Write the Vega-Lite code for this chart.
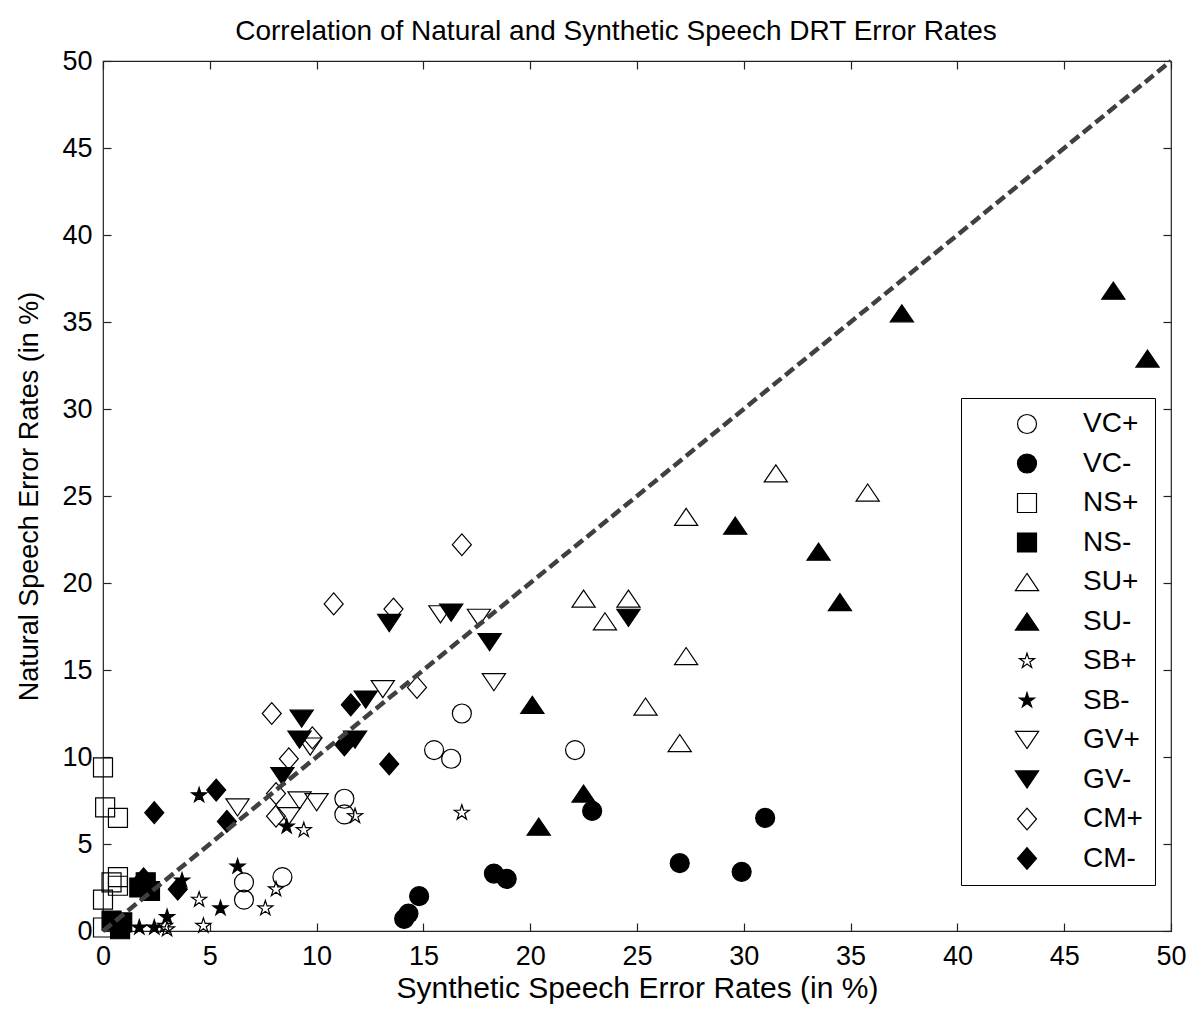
{
  "$schema": "https://vega.github.io/schema/vega-lite/v6.json",
  "width": 1068,
  "height": 870,
  "autosize": {"type": "none"},
  "padding": {"left": 103, "top": 61, "right": 20, "bottom": 78},
  "background": "white",
  "config": {
    "font": "Liberation Sans",
    "view": {"stroke": "#222222", "strokeWidth": 1.2},
    "axis": {
      "domain": false,
      "grid": false,
      "tickSize": -8,
      "tickColor": "#222222",
      "tickWidth": 1.2,
      "labelFontSize": 27,
      "labelColor": "black",
      "labelFont": "Liberation Sans",
      "labelFlush": false,
      "labelOverlap": false,
      "titleFontSize": 30,
      "titleFontWeight": "normal",
      "titleColor": "black",
      "titleFont": "Liberation Sans"
    },
    "legend": {
      "orient": "none", "legendX": 858, "legendY": 337, "title": null,
      "strokeColor": "black", "fillColor": "white", "padding": 12,
      "labelFontSize": 28, "labelColor": "black", "labelFont": "Liberation Sans",
      "symbolSize": 361, "symbolStrokeWidth": 1.2,
      "symbolOffset": 40, "labelOffset": 42, "rowPadding": 11.5
    }
  },
  "title": {
    "text": "Correlation of Natural and Synthetic Speech DRT Error Rates",
    "fontSize": 28,
    "fontWeight": "normal",
    "font": "Liberation Sans",
    "color": "black",
    "anchor": "middle",
    "dx": -21,
    "offset": 1
  },
  "datasets": {
    "pts": [
      {"g": "VC+", "x": 16.8, "y": 12.5}, {"g": "VC+", "x": 15.5, "y": 10.4}, {"g": "VC+", "x": 16.3, "y": 9.9},
      {"g": "VC+", "x": 22.1, "y": 10.4}, {"g": "VC+", "x": 11.3, "y": 7.6}, {"g": "VC+", "x": 11.3, "y": 6.7},
      {"g": "VC+", "x": 6.6, "y": 2.8}, {"g": "VC+", "x": 6.6, "y": 1.8}, {"g": "VC+", "x": 8.4, "y": 3.1},
      {"g": "VC-", "x": 14.1, "y": 0.7}, {"g": "VC-", "x": 14.3, "y": 1.0}, {"g": "VC-", "x": 14.8, "y": 2.0},
      {"g": "VC-", "x": 18.3, "y": 3.3}, {"g": "VC-", "x": 18.9, "y": 3.0}, {"g": "VC-", "x": 22.9, "y": 6.9},
      {"g": "VC-", "x": 27.0, "y": 3.9}, {"g": "VC-", "x": 29.9, "y": 3.4}, {"g": "VC-", "x": 31.0, "y": 6.5},
      {"g": "NS+", "x": 0.0, "y": 9.4}, {"g": "NS+", "x": 0.1, "y": 7.1}, {"g": "NS+", "x": 0.7, "y": 6.5},
      {"g": "NS+", "x": 0.7, "y": 3.1}, {"g": "NS+", "x": 0.4, "y": 2.8}, {"g": "NS+", "x": 0.7, "y": 2.6},
      {"g": "NS+", "x": 0.0, "y": 1.8}, {"g": "NS+", "x": 0.0, "y": 0.2},
      {"g": "NS-", "x": 0.4, "y": 0.6}, {"g": "NS-", "x": 0.9, "y": 0.5}, {"g": "NS-", "x": 0.8, "y": 0.1},
      {"g": "NS-", "x": 1.7, "y": 2.5}, {"g": "NS-", "x": 2.2, "y": 2.3}, {"g": "NS-", "x": 2.0, "y": 2.8},
      {"g": "SU+", "x": 31.5, "y": 26.3}, {"g": "SU+", "x": 35.8, "y": 25.2}, {"g": "SU+", "x": 27.3, "y": 23.8},
      {"g": "SU+", "x": 22.5, "y": 19.1}, {"g": "SU+", "x": 24.6, "y": 19.1}, {"g": "SU+", "x": 23.5, "y": 17.8},
      {"g": "SU+", "x": 27.3, "y": 15.8}, {"g": "SU+", "x": 25.4, "y": 12.9}, {"g": "SU+", "x": 27.0, "y": 10.8},
      {"g": "SU-", "x": 47.3, "y": 36.8}, {"g": "SU-", "x": 48.9, "y": 32.9}, {"g": "SU-", "x": 37.4, "y": 35.5},
      {"g": "SU-", "x": 29.6, "y": 23.3}, {"g": "SU-", "x": 33.5, "y": 21.8}, {"g": "SU-", "x": 34.5, "y": 18.9},
      {"g": "SU-", "x": 22.5, "y": 7.9}, {"g": "SU-", "x": 20.1, "y": 13.0}, {"g": "SU-", "x": 20.4, "y": 6.0},
      {"g": "SB+", "x": 16.8, "y": 6.8}, {"g": "SB+", "x": 11.8, "y": 6.6}, {"g": "SB+", "x": 9.4, "y": 5.8},
      {"g": "SB+", "x": 8.1, "y": 2.4}, {"g": "SB+", "x": 7.6, "y": 1.3}, {"g": "SB+", "x": 4.5, "y": 1.8},
      {"g": "SB+", "x": 4.7, "y": 0.3}, {"g": "SB+", "x": 3.0, "y": 0.1}, {"g": "SB+", "x": 2.9, "y": 0.3},
      {"g": "SB-", "x": 4.5, "y": 7.8}, {"g": "SB-", "x": 8.6, "y": 6.0}, {"g": "SB-", "x": 6.3, "y": 3.7},
      {"g": "SB-", "x": 5.5, "y": 1.3}, {"g": "SB-", "x": 3.0, "y": 0.8}, {"g": "SB-", "x": 1.7, "y": 0.2},
      {"g": "SB-", "x": 2.4, "y": 0.2}, {"g": "SB-", "x": 3.7, "y": 2.9},
      {"g": "GV+", "x": 15.8, "y": 18.2}, {"g": "GV+", "x": 17.6, "y": 18.0}, {"g": "GV+", "x": 18.3, "y": 14.3},
      {"g": "GV+", "x": 13.1, "y": 13.9}, {"g": "GV+", "x": 9.7, "y": 10.6}, {"g": "GV+", "x": 6.3, "y": 7.1},
      {"g": "GV+", "x": 9.2, "y": 7.5}, {"g": "GV+", "x": 10.0, "y": 7.4}, {"g": "GV+", "x": 8.7, "y": 6.6},
      {"g": "GV-", "x": 13.4, "y": 17.7}, {"g": "GV-", "x": 16.3, "y": 18.3}, {"g": "GV-", "x": 18.1, "y": 16.6},
      {"g": "GV-", "x": 24.6, "y": 18.0}, {"g": "GV-", "x": 12.3, "y": 13.3}, {"g": "GV-", "x": 9.3, "y": 12.2},
      {"g": "GV-", "x": 9.2, "y": 11.0}, {"g": "GV-", "x": 11.8, "y": 11.0}, {"g": "GV-", "x": 8.4, "y": 8.9},
      {"g": "CM+", "x": 16.8, "y": 22.2}, {"g": "CM+", "x": 10.8, "y": 18.8}, {"g": "CM+", "x": 13.6, "y": 18.5},
      {"g": "CM+", "x": 14.7, "y": 14.0}, {"g": "CM+", "x": 7.9, "y": 12.5}, {"g": "CM+", "x": 9.8, "y": 11.1},
      {"g": "CM+", "x": 8.7, "y": 9.9}, {"g": "CM+", "x": 8.1, "y": 7.9}, {"g": "CM+", "x": 8.1, "y": 6.6},
      {"g": "CM-", "x": 11.6, "y": 13.0}, {"g": "CM-", "x": 11.3, "y": 10.7}, {"g": "CM-", "x": 13.4, "y": 9.6},
      {"g": "CM-", "x": 5.3, "y": 8.1}, {"g": "CM-", "x": 2.4, "y": 6.8}, {"g": "CM-", "x": 5.8, "y": 6.3},
      {"g": "CM-", "x": 3.5, "y": 2.4}, {"g": "CM-", "x": 1.9, "y": 3.0}
    ],
    "diag": [{"x": 0, "y": 0}, {"x": 50, "y": 50}]
  },
  "layer": [
    {
      "data": {"name": "pts"},
      "mark": {"type": "point", "filled": true, "strokeWidth": 1.2, "size": 361, "opacity": 1},
      "encoding": {
        "x": {
          "field": "x", "type": "quantitative",
          "scale": {"domain": [0, 50], "nice": false, "zero": false},
          "axis": {"orient": "bottom", "values": [0, 5, 10, 15, 20, 25, 30, 35, 40, 45, 50], "title": "Synthetic Speech Error Rates (in %)", "labelPadding": 20, "titlePadding": 4}
        },
        "y": {
          "field": "y", "type": "quantitative",
          "scale": {"domain": [0, 50], "nice": false, "zero": false},
          "axis": {"orient": "left", "values": [0, 5, 10, 15, 20, 25, 30, 35, 40, 45, 50], "title": "Natural Speech Error Rates (in %)", "labelPadding": 19, "titlePadding": 18, "titleFontSize": 27}
        },
        "shape": {
          "field": "g", "type": "nominal",
          "scale": {
            "domain": ["VC+", "VC-", "NS+", "NS-", "SU+", "SU-", "SB+", "SB-", "GV+", "GV-", "CM+", "CM-"],
            "range": [
              "circle", "circle", "square", "square",
              "M0,-0.9L1.22,0.9L-1.22,0.9Z", "M0,-0.9L1.22,0.9L-1.22,0.9Z",
              "M0,-0.83L0.185,-0.255L0.789,-0.256L0.3,0.097L0.488,0.671L0,0.315L-0.488,0.671L-0.3,0.097L-0.789,-0.256L-0.185,-0.255Z",
              "M0,-0.83L0.185,-0.255L0.789,-0.256L0.3,0.097L0.488,0.671L0,0.315L-0.488,0.671L-0.3,0.097L-0.789,-0.256L-0.185,-0.255Z",
              "M0,0.9L1.22,-0.9L-1.22,-0.9Z", "M0,0.9L1.22,-0.9L-1.22,-0.9Z",
              "M0,-1.15L1,0L0,1.15L-1,0Z", "M0,-1.15L1,0L0,1.15L-1,0Z"
            ]
          }
        },
        "fill": {
          "field": "g", "type": "nominal",
          "scale": {
            "domain": ["VC+", "VC-", "NS+", "NS-", "SU+", "SU-", "SB+", "SB-", "GV+", "GV-", "CM+", "CM-"],
            "range": ["transparent", "black", "transparent", "black", "transparent", "black", "transparent", "black", "transparent", "black", "transparent", "black"]
          }
        },
        "stroke": {
          "field": "g", "type": "nominal",
          "scale": {
            "domain": ["VC+", "VC-", "NS+", "NS-", "SU+", "SU-", "SB+", "SB-", "GV+", "GV-", "CM+", "CM-"],
            "range": ["black", "black", "black", "black", "black", "black", "black", "black", "black", "black", "black", "black"]
          }
        }
      }
    },
    {
      "data": {"name": "diag"},
      "mark": {"type": "line", "color": "#404040", "strokeWidth": 4.5, "strokeDash": [11, 5]},
      "encoding": {
        "x": {"field": "x", "type": "quantitative", "axis": {"orient": "top", "values": [0, 5, 10, 15, 20, 25, 30, 35, 40, 45, 50], "labels": false, "title": null}},
        "y": {"field": "y", "type": "quantitative", "axis": {"orient": "right", "values": [0, 5, 10, 15, 20, 25, 30, 35, 40, 45, 50], "labels": false, "title": null}}
      }
    }
  ],
  "resolve": {"axis": {"x": "independent", "y": "independent"}}
}
